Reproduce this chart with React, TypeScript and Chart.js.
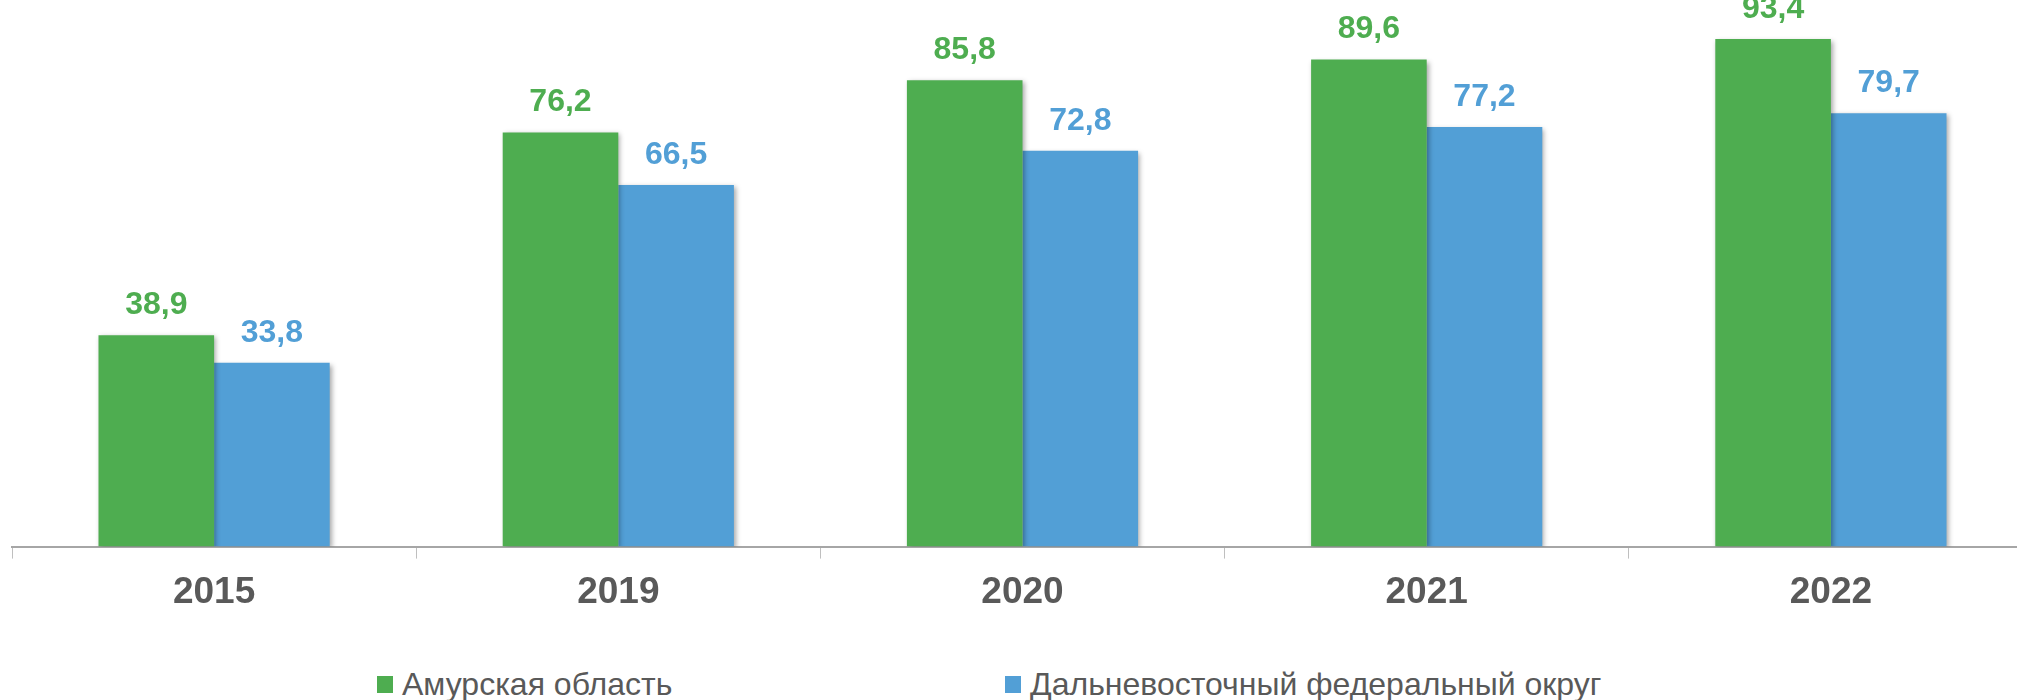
import { useEffect, useRef } from "react";
import { Chart, registerables, Plugin } from "chart.js";

Chart.register(...registerables);

const years = ["2015", "2019", "2020", "2021", "2022"];
const amurValues = [38.9, 76.2, 85.8, 89.6, 93.4];
const dfoValues = [33.8, 66.5, 72.8, 77.2, 79.7];
const seriesNames = ["Амурская область", "Дальневосточный федеральный округ"];

const GREEN = "#4EAD50";
const BLUE = "#529FD6";
const FONT = "'Liberation Sans', Arial, sans-serif";

// soft drop shadow under the bars, like the office chart
const barShadow: Plugin<"bar"> = {
  id: "barShadow",
  beforeDatasetsDraw(chart) {
    const ctx = chart.ctx;
    ctx.save();
    ctx.shadowColor = "rgba(0, 0, 0, 0.35)";
    ctx.shadowBlur = 5;
    ctx.shadowOffsetX = 2;
    ctx.shadowOffsetY = 2;
  },
  afterDatasetsDraw(chart) {
    chart.ctx.restore();
  },
};

const valueLabels: Plugin<"bar"> = {
  id: "valueLabels",
  afterDatasetsDraw(chart) {
    const ctx = chart.ctx;
    ctx.save();
    ctx.font = `bold 32px ${FONT}`;
    ctx.textAlign = "center";
    ctx.textBaseline = "middle";
    chart.data.datasets.forEach((ds, i) => {
      const meta = chart.getDatasetMeta(i);
      ctx.fillStyle = ds.backgroundColor as string;
      meta.data.forEach((bar, j) => {
        const v = ds.data[j] as number;
        ctx.fillText(v.toFixed(1).replace(".", ","), bar.x, bar.y - 30);
      });
    });
    ctx.restore();
  },
};

export default function App() {
  const canvasRef = useRef<HTMLCanvasElement>(null);
  const chartRef = useRef<Chart | null>(null);

  useEffect(() => {
    if (!canvasRef.current) return;
    const ctx = canvasRef.current.getContext("2d");
    if (!ctx) return;

    chartRef.current = new Chart(ctx, {
      type: "bar",
      data: {
        labels: years,
        datasets: [
          {
            label: seriesNames[0],
            data: amurValues,
            backgroundColor: GREEN,
            categoryPercentage: 0.572,
            barPercentage: 1,
          },
          {
            label: seriesNames[1],
            data: dfoValues,
            backgroundColor: BLUE,
            categoryPercentage: 0.572,
            barPercentage: 1,
          },
        ],
      },
      options: {
        responsive: true,
        maintainAspectRatio: false,
        animation: false,
        layout: { padding: { left: 12, right: 7, top: 3, bottom: 0 } },
        scales: {
          x: {
            grid: {
              offset: true,
              drawOnChartArea: false,
              drawTicks: true,
              tickLength: 12,
              color: "#BFBFBF",
            },
            border: { display: true, color: "#A6A6A6", width: 2 },
            ticks: {
              color: "#595959",
              padding: 12,
              font: { family: FONT, size: 37, weight: "bold" },
            },
          },
          y: {
            display: false,
            min: 0,
            max: 100,
          },
        },
        plugins: {
          legend: { display: false },
          tooltip: { enabled: false },
        },
      },
      plugins: [barShadow, valueLabels],
    });

    return () => {
      if (chartRef.current) {
        chartRef.current.destroy();
        chartRef.current = null;
      }
    };
  }, []);

  const legendItem = (color: string, text: string, left: number) => (
    <div
      style={{
        position: "absolute",
        left,
        top: 668,
        height: 32,
        display: "flex",
        alignItems: "center",
        fontFamily: FONT,
        fontSize: 32,
        lineHeight: "32px",
        color: "#595959",
        whiteSpace: "nowrap",
      }}
    >
      <div style={{ width: 16, height: 17, background: color, marginRight: 9 }} />
      {text}
    </div>
  );

  return (
    <div
      style={{
        position: "fixed",
        left: 0,
        top: 0,
        width: 2040,
        height: 700,
        overflow: "hidden",
        background: "#fff",
      }}
    >
      <div style={{ position: "relative", width: 2040, height: 627 }}>
        <canvas ref={canvasRef} />
      </div>
      {legendItem(GREEN, seriesNames[0], 377)}
      {legendItem(BLUE, seriesNames[1], 1005)}
    </div>
  );
}
